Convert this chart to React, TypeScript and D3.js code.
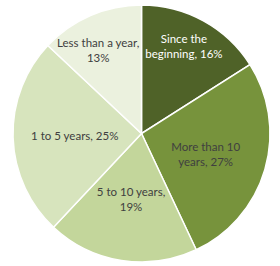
import React from "react";
import * as d3 from "d3";

const categories = ["Since the beginning", "More than 10 years", "5 to 10 years", "1 to 5 years", "Less than a year"];
const values = [16, 27, 19, 25, 13];
const colors = ["#4f6228", "#77933c", "#c3d69b", "#d7e4bd", "#ebf1de"];
const labelLines = [
  ["Since the", "beginning, 16%"],
  ["More than 10", "years, 27%"],
  ["5 to 10 years,", "19%"],
  ["1 to 5 years, 25%"],
  ["Less than a year,", "13%"],
];
// small label nudges (px) to mimic Excel's best-fit placement
const labelNudge: [number, number][] = [[-4, -3], [0, 2], [0, 0], [0, 0], [-5, 5]];

export default function App() {
  const W = 280, H = 266;
  const cx = 141.5, cy = 133.5, r = 128.5;
  const pie = d3.pie<number>().sort(null).value((d) => d);
  const arcs = pie(values);
  const arc = d3.arc<d3.PieArcDatum<number>>().innerRadius(0).outerRadius(r);
  return (
    <svg width={W} height={H} style={{ position: "absolute", left: 0, top: 0, background: "#fff" }}>
      <g transform={`translate(${cx},${cy})`}>
        {arcs.map((a, i) => (
          <path key={i} d={arc(a) || ""} fill={colors[i]} stroke="#fff" strokeWidth={1.5} />
        ))}
        {arcs.map((a, i) => {
          const lr = values[i] <= 16 ? r * 0.75 : r * 0.52;
          const mid = (a.startAngle + a.endAngle) / 2;
          const x = lr * Math.sin(mid) + labelNudge[i][0];
          const y = -lr * Math.cos(mid) + labelNudge[i][1];
          const lines = labelLines[i];
          const lh = 15;
          const y0 = y - ((lines.length - 1) * lh) / 2;
          return (
            <text key={i} x={x} textAnchor="middle" fontFamily="Lato, 'Open Sans', sans-serif" fontSize={11.5}
              fill={i === 0 ? "#ffffff" : "#404040"}>
              {lines.map((l, j) => (
                <tspan key={j} x={x} y={y0 + j * lh} dy="0.35em">{l}</tspan>
              ))}
            </text>
          );
        })}
      </g>
    </svg>
  );
}
